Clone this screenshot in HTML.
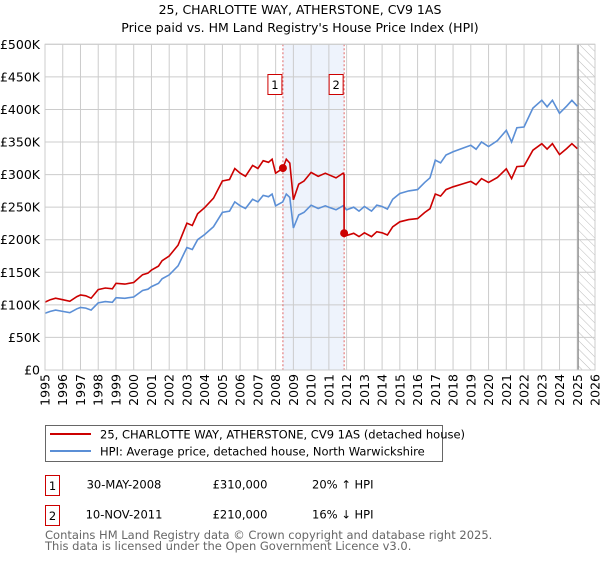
<!DOCTYPE html>
<html><head><meta charset="utf-8"><style>
body{margin:0;background:#fff;font-family:"DejaVu Sans","Liberation Sans",sans-serif;}
svg text{font-family:"DejaVu Sans","Liberation Sans",sans-serif;}
</style></head><body>
<svg id="chart" width="600" height="560" xmlns="http://www.w3.org/2000/svg">
<defs><pattern id="hatch" width="6" height="6" patternUnits="userSpaceOnUse" patternTransform="rotate(-45)"><line x1="0" y1="0" x2="0" y2="6" stroke="#bbb" stroke-width="1"/></pattern></defs>
<text x="300" y="14" text-anchor="middle" font-size="12.5" fill="#000">25, CHARLOTTE WAY, ATHERSTONE, CV9 1AS</text>
<text x="300" y="32" text-anchor="middle" font-size="12.5" fill="#000">Price paid vs. HM Land Registry's House Price Index (HPI)</text>
<g id="grid"></g><g id="marks"></g><g id="axes"></g>
<rect x="45.5" y="425.5" width="397" height="36" fill="#fff" stroke="#666"/>
<line x1="50" y1="434" x2="91" y2="434" stroke="#cc0000" stroke-width="2"/>
<text x="100" y="438.5" font-size="11.5">25, CHARLOTTE WAY, ATHERSTONE, CV9 1AS (detached house)</text>
<line x1="50" y1="451" x2="91" y2="451" stroke="#5b8fd6" stroke-width="2"/>
<text x="100" y="455.5" font-size="11.5">HPI: Average price, detached house, North Warwickshire</text>
<g>
<rect x="45.5" y="475.5" width="14" height="20" fill="#fff" stroke="#cc0000"/><text x="52.5" y="490" text-anchor="middle" font-size="11.5">1</text>
<text x="124" y="488.5" text-anchor="middle" font-size="11.5">30-MAY-2008</text>
<text x="240" y="488.5" text-anchor="middle" font-size="11.5">£310,000</text>
<text x="312" y="488.5" font-size="11.5">20% ↑ HPI</text></g>
<g>
<rect x="45.5" y="505.5" width="14" height="20" fill="#fff" stroke="#cc0000"/><text x="52.5" y="520" text-anchor="middle" font-size="11.5">2</text>
<text x="124" y="518.5" text-anchor="middle" font-size="11.5">10-NOV-2011</text>
<text x="240" y="518.5" text-anchor="middle" font-size="11.5">£210,000</text>
<text x="312" y="518.5" font-size="11.5">16% ↓ HPI</text></g>
<text x="45" y="539" font-size="11.5" fill="#666">Contains HM Land Registry data © Crown copyright and database right 2025.</text>
<text x="45" y="550" font-size="11.5" fill="#666">This data is licensed under the Open Government Licence v3.0.</text>
</svg>
<script>
const hpiYears=[1995,1995.3,1995.6,1996,1996.4,1996.8,1997,1997.3,1997.6,1998,1998.4,1998.8,1999,1999.5,2000,2000.5,2000.8,2001,2001.4,2001.6,2002,2002.5,2003,2003.3,2003.6,2004,2004.5,2005,2005.4,2005.7,2006,2006.3,2006.7,2007,2007.3,2007.6,2007.8,2008,2008.4,2008.6,2008.8,2009,2009.3,2009.6,2010,2010.4,2010.8,2011,2011.4,2011.8,2012,2012.4,2012.7,2013,2013.4,2013.7,2014,2014.3,2014.6,2015,2015.5,2016,2016.4,2016.7,2017,2017.3,2017.6,2018,2018.5,2019,2019.3,2019.6,2020,2020.5,2021,2021.3,2021.6,2022,2022.5,2023,2023.3,2023.6,2024,2024.4,2024.7,2025];
const hpiValues=[87,90,92,90,88,94,96,95,92,103,105,104,111,110,112,122,124,128,133,140,146,160,188,185,200,208,220,242,244,258,252,248,262,258,268,266,270,252,258,270,265,218,238,242,253,248,252,250,246,252,246,250,244,251,244,253,251,247,262,271,275,277,288,295,322,318,330,335,340,345,339,350,343,352,368,350,372,373,402,414,404,414,394,405,414,405];
const saleYears=[2008.41,2011.86];
const saleValues=[310,210];
const yTicks=[0,50,100,150,200,250,300,350,400,450,500];
const yTickLabels=["£0","£50K","£100K","£150K","£200K","£250K","£300K","£350K","£400K","£450K","£500K"];
const xTicks=[1995,1996,1997,1998,1999,2000,2001,2002,2003,2004,2005,2006,2007,2008,2009,2010,2011,2012,2013,2014,2015,2016,2017,2018,2019,2020,2021,2022,2023,2024,2025,2026];
const dataEnd=2025.05;
const L=45,R=595,T=44.3,B=370;
const X=y=>L+(y-1995)/(2026-1995)*(R-L);
const Y=v=>B-v/500*(B-T);
const NS="http://www.w3.org/2000/svg";
function mk(p,tag,at){const e=document.createElementNS(NS,tag);for(const k in at)e.setAttribute(k,at[k]);p.appendChild(e);return e;}
const grid=document.getElementById('grid'),marks=document.getElementById('marks'),axes=document.getElementById('axes');
// shaded span between sales
const sh=mk(grid,'rect',{x:X(saleYears[0]),y:T,width:X(saleYears[1])-X(saleYears[0]),height:B-T,fill:'#eef3fc'});


const ht=mk(grid,'rect',{x:X(dataEnd),y:T,width:R-X(dataEnd),height:B-T,fill:'url(#hatch)'});


yTicks.forEach((v,i)=>{
 const g=mk(grid,'line',{x1:L,x2:R,y1:Y(v),y2:Y(v),stroke:'#ccc','stroke-width':1});
 
 
 const t=mk(axes,'text',{x:40,y:Y(v)+4.5,'text-anchor':'end','font-size':12.5});
 t.textContent=yTickLabels[i];
 
 
});
xTicks.forEach(yr=>{
 const g=mk(grid,'line',{x1:X(yr),x2:X(yr),y1:T,y2:B,stroke:'#ccc','stroke-width':1});
 
 
 const t=mk(axes,'text',{x:0,y:0,'text-anchor':'end','font-size':12.5,transform:`translate(${X(yr)+4.5},374) rotate(-90)`});
 t.textContent=yr;
 
 
});
mk(grid,'line',{x1:X(dataEnd),x2:X(dataEnd),y1:T,y2:B,stroke:'#888','stroke-width':1.2});
const frame=mk(axes,'rect',{x:L,y:T,width:R-L,height:B-T,fill:'none',stroke:'#ccc'});


// sale vlines + labels
saleYears.forEach((yr,i)=>{
 const l=mk(marks,'line',{x1:X(yr),x2:X(yr),y1:T,y2:B,stroke:'#e06666','stroke-width':1,'stroke-dasharray':'2,2'});
 
 
 const b=mk(marks,'rect',{x:X(yr)-15,y:74.5,width:14,height:20,fill:'#fff',stroke:'#cc0000'});
 
 
 const t=mk(marks,'text',{x:X(yr)-8,y:89,'text-anchor':'middle','font-size':11.5});
 t.textContent=String(i+1);
 
 
});
function hpiAt(yr){for(let i=1;i<hpiYears.length;i++){if(yr<=hpiYears[i]){const f=(yr-hpiYears[i-1])/(hpiYears[i]-hpiYears[i-1]);return hpiValues[i-1]+f*(hpiValues[i]-hpiValues[i-1]);}}return hpiValues[hpiValues.length-1];}
const r1=saleValues[0]/hpiAt(saleYears[0]),r2=saleValues[1]/hpiAt(saleYears[1]);
const bp=hpiYears.map((y,i)=>X(y).toFixed(1)+','+Y(hpiValues[i]).toFixed(1)).join(' ');
const hl=mk(marks,'polyline',{points:bp,fill:'none',stroke:'#5b8fd6','stroke-width':1.6});


const rp=[];
hpiYears.forEach((y,i)=>{
 if(y>saleYears[1]&&hpiYears[i-1]<=saleYears[1]){rp.push([saleYears[1],hpiAt(saleYears[1])*r1]);rp.push([saleYears[1],saleValues[1]]);}
 rp.push([y,hpiValues[i]*(y<=saleYears[1]?r1:r2)]);
});
const rl=mk(marks,'polyline',{points:rp.map(p=>X(p[0]).toFixed(1)+','+Y(p[1]).toFixed(1)).join(' '),fill:'none',stroke:'#cc0000','stroke-width':1.6});


saleYears.forEach((yr,i)=>{
 const c=mk(marks,'circle',{cx:X(yr),cy:Y(saleValues[i]),r:4,fill:'#cc0000'});
 
 
});
</script>
</body></html>
